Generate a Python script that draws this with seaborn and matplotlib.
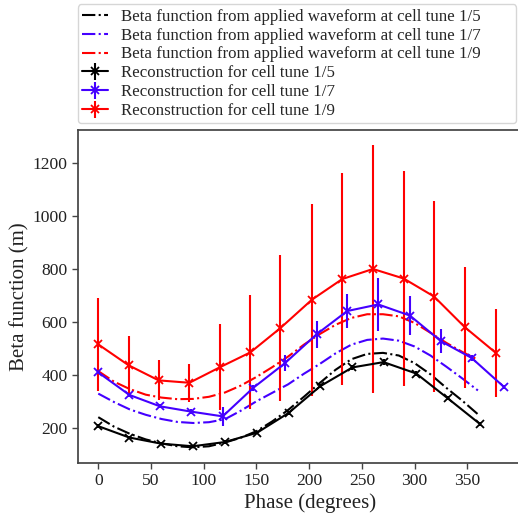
import matplotlib
matplotlib.use("Agg")
import matplotlib.pyplot as plt
import seaborn as sns

# applied waveform (beta function), sampled every 15 degrees
applied_phase = [0, 15, 30, 45, 60, 75, 90, 105, 120, 135, 150, 165, 180,
                 195, 210, 225, 240, 255, 270, 285, 300, 315, 330, 345, 360]
applied_beta_5 = [241, 205, 178, 157, 142, 131, 127, 131, 145, 163, 188, 225, 268,
                  318, 370, 420, 460, 480, 484, 474, 445, 403, 352, 304, 252]
applied_beta_7 = [330, 298, 270, 250, 234, 223, 219, 222, 233, 265, 301, 333, 365,
                  405, 442, 482, 515, 533, 538, 530, 508, 474, 432, 388, 342]
applied_beta_9 = [415, 375, 347, 326, 315, 309, 310, 318, 334, 360, 393, 430, 470,
                  515, 555, 590, 616, 630, 630, 622, 597, 560, 522, 488, 458]

# reconstructed beta function with error bars
recon_phase_5 = [0, 29.5, 59.5, 89.6, 120, 150.5, 180.5, 210.5, 241, 270.5, 301.5, 331.5, 362]
recon_beta_5 = [207, 164, 141, 131, 147, 182, 257, 358, 429, 449, 406, 312, 215]
recon_err_5 = [8, 6, 6, 6, 6, 6, 8, 8, 10, 10, 8, 8, 8]

recon_phase_7 = [0, 29.5, 58.5, 88, 118, 147, 177, 207, 236, 265.5, 295.5, 325, 354, 384.5]
recon_beta_7 = [410, 325, 282, 262, 244, 352, 445, 554, 642, 667, 625, 528, 465, 356]
recon_err_7 = [12, 8, 8, 8, 35, 12, 30, 50, 65, 100, 73, 45, 12, 8]

recon_phase_9 = [0, 28.8, 57.3, 86.4, 115.5, 144.3, 172.8, 202.6, 231.4, 260.5,
                 289.6, 318.4, 347.6, 377]
recon_beta_9 = [516, 437, 380, 371, 430, 486, 578, 685, 763, 801, 765, 697, 581, 484]
recon_err_9 = [175, 111, 76, 72, 162, 215, 275, 363, 399, 468, 408, 360, 229, 165]

tunes = ["1/5", "1/7", "1/9"]
colors = ["black", "#4400ff", "#ff0000"]

sns.set_theme(style="ticks")
plt.rcParams.update({
    "font.family": ["Liberation Serif", "DejaVu Serif"],
    "axes.edgecolor": "#444444",
    "xtick.color": "#444444",
    "ytick.color": "#444444",
    "xtick.labelcolor": "#222222",
    "ytick.labelcolor": "#222222",
    "savefig.bbox": "standard",
})

fig = plt.figure(figsize=(5.18, 5.17), dpi=100)
ax = fig.add_axes([78 / 518, 54 / 517, 446 / 518, 333 / 517])

applied = [applied_beta_5, applied_beta_7, applied_beta_9]
for beta, tune, col in zip(applied, tunes, colors):
    sns.lineplot(x=applied_phase, y=beta, ax=ax, color=col, linestyle="-.",
                 linewidth=1.5,
                 label=f"Beta function from applied waveform at cell tune {tune}")

recon = [
    (recon_phase_5, recon_beta_5, recon_err_5),
    (recon_phase_7, recon_beta_7, recon_err_7),
    (recon_phase_9, recon_beta_9, recon_err_9),
]
for (phase, beta, err), tune, col in zip(recon, tunes, colors):
    ax.errorbar(phase, beta, yerr=err, fmt="-x", color=col, linewidth=1.5,
                elinewidth=1.5, markersize=6, markeredgewidth=1.3,
                label=f"Reconstruction for cell tune {tune}")

# widen the x range a little so the right edge of the axes falls off the figure
x0, x1 = ax.get_xlim()
ax.set_xlim(x0, x1 + 0.04 * (x1 - x0))
ax.set_position([78 / 518, 54 / 517, 446 * 1.04 / 518, 333 / 517])

ax.set_xticks([0, 50, 100, 150, 200, 250, 300, 350])
ax.set_yticks([200, 400, 600, 800, 1000, 1200])
ax.tick_params(labelsize=12.6, length=4, width=1)
ax.set_xlabel("Phase (degrees)", fontsize=15, color="#222222", labelpad=3)
ax.set_ylabel("Beta function (m)", fontsize=15, color="#222222", labelpad=2)
ax.spines["top"].set_visible(True)
ax.spines["right"].set_visible(False)

ax.legend(loc="lower left", bbox_to_anchor=(0.0, 1.02, 438 / (446 * 1.04), 0.3),
          mode="expand", borderaxespad=0,
          fontsize=12.2, labelspacing=0.17, handlelength=1.5, handletextpad=0.8,
          borderpad=0.25, frameon=True, edgecolor="#cccccc", fancybox=True)

fig.savefig("out.png", dpi=100, bbox_inches=None)
